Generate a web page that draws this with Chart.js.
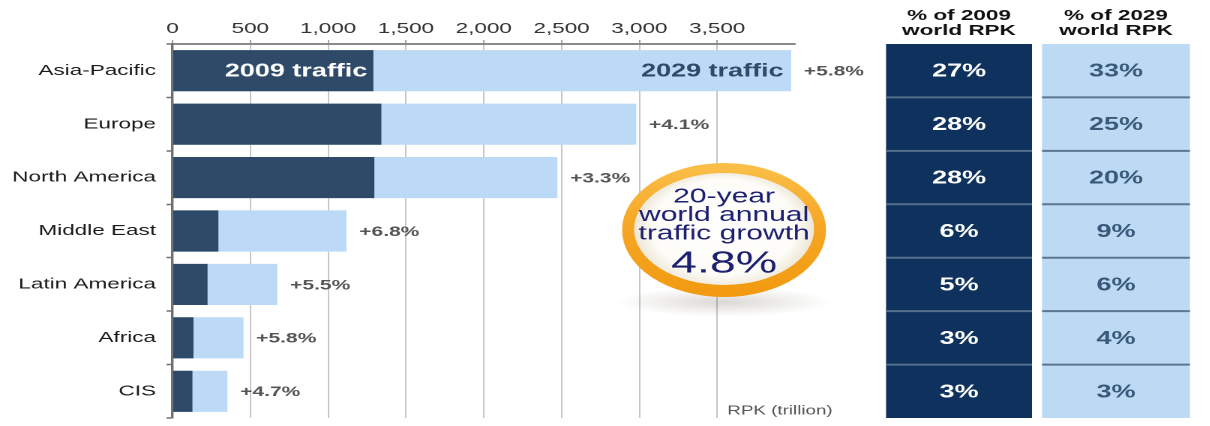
<!DOCTYPE html>
<html lang="en">
<head>
<meta charset="UTF-8" />
<title>World RPK by region, 2009 and 2029</title>
<script src="https://cdn.jsdelivr.net/npm/chart.js"></script>
<style>
  html, body {
    margin: 0;
    padding: 0;
    background: #fff;
    overflow: hidden;
  }
  /* the source graphic is stretched sideways about 1.5x, so draw it
     narrow and stretch the whole thing the same way */
  .wrap {
    width: 807px;
    height: 426px;
    transform: scaleX(1.5);
    transform-origin: 0 0;
    position: relative;
  }
</style>
</head>
<body>
<div class="wrap"><canvas id="rpk"></canvas></div>
<script>
const regions = ['Asia-Pacific', 'Europe', 'North America', 'Middle East', 'Latin America', 'Africa', 'CIS'];
const traffic2009 = [1291, 1342, 1297, 295, 225, 135, 128];
const traffic2029 = [3975, 2980, 2473, 1118, 674, 456, 353];
const growth = ['+5.8%', '+4.1%', '+3.3%', '+6.8%', '+5.5%', '+5.8%', '+4.7%'];
const share2009 = ['27%', '28%', '28%', '6%', '5%', '3%', '3%'];
const share2029 = ['33%', '25%', '20%', '9%', '6%', '4%', '3%'];
const badgeLines = ['20-year', 'world annual', 'traffic growth'];
const worldGrowth = '4.8%';

const FONT = '"Liberation Sans", Arial, Helvetica, sans-serif';
const DARK = '#2f4a69';
const LIGHT = '#bcdaf5';

const extras = {
  id: 'extras',
  afterDatasetsDraw(chart) {
    const { ctx, chartArea: a, scales: { x, y } } = chart;
    ctx.save();
    ctx.textBaseline = 'middle';

    // growth rate after each bar
    ctx.font = 'bold 14px ' + FONT;
    ctx.fillStyle = '#555';
    ctx.textAlign = 'left';
    regions.forEach((r, i) => {
      ctx.fillText(growth[i], x.getPixelForValue(traffic2029[i]) + 8.5, y.getPixelForValue(i) + 1);
    });

    // labels inside the first bar
    ctx.font = 'bold 18px ' + FONT;
    ctx.textAlign = 'right';
    ctx.fillStyle = '#fff';
    ctx.fillText('2009 traffic', x.getPixelForValue(traffic2009[0]) - 4, y.getPixelForValue(0) + 1);
    ctx.fillStyle = DARK;
    ctx.fillText('2029 traffic', x.getPixelForValue(traffic2029[0]) - 5, y.getPixelForValue(0) + 1);

    // orange badge
    const cx = 482.7, cy = 230;
    ctx.save();
    ctx.translate(cx, cy + 72);
    ctx.scale(1, 0.2);
    const sh = ctx.createRadialGradient(0, 0, 0, 0, 0, 72);
    sh.addColorStop(0, 'rgba(90,80,60,0.22)');
    sh.addColorStop(1, 'rgba(90,80,60,0)');
    ctx.fillStyle = sh;
    ctx.beginPath();
    ctx.arc(0, 0, 72, 0, Math.PI * 2);
    ctx.fill();
    ctx.restore();

    const ring = ctx.createLinearGradient(cx, cy - 67, cx, cy + 67);
    ring.addColorStop(0, '#fbc04a');
    ring.addColorStop(0.45, '#f6a726');
    ring.addColorStop(1, '#f29a10');
    ctx.beginPath();
    ctx.ellipse(cx, cy, 68, 67, 0, 0, Math.PI * 2);
    ctx.fillStyle = ring;
    ctx.fill();
    const inner = ctx.createRadialGradient(cx, cy - 12, 4, cx, cy, 62);
    inner.addColorStop(0, '#ffffff');
    inner.addColorStop(0.75, '#fdfcf8');
    inner.addColorStop(1, '#ece4d2');
    ctx.beginPath();
    ctx.ellipse(cx, cy - 1, 60, 56, 0, 0, Math.PI * 2);
    ctx.fillStyle = inner;
    ctx.fill();

    ctx.fillStyle = '#1d2070';
    ctx.textAlign = 'center';
    ctx.font = '20px ' + FONT;
    badgeLines.forEach((t, i) => ctx.fillText(t, cx, 197 + i * 18.5));
    ctx.font = '31px ' + FONT;
    ctx.fillText(worldGrowth, cx, 264);

    // share tables on the right
    const step = (a.bottom - a.top) / regions.length;
    const cols = [
      { x0: 590.7, x1: 688, fill: '#0e325d', text: '#fff', line: '#566f8e', vals: share2009, head: ['% of 2009', 'world RPK'] },
      { x0: 694.7, x1: 793.3, fill: '#bddaf5', text: '#3a5878', line: '#5c7591', vals: share2029, head: ['% of 2029', 'world RPK'] }
    ];
    cols.forEach(c => {
      const mid = (c.x0 + c.x1) / 2;
      ctx.fillStyle = c.fill;
      ctx.fillRect(c.x0, a.top, c.x1 - c.x0, a.bottom - a.top);
      ctx.strokeStyle = c.line;
      ctx.lineWidth = 2;
      for (let i = 1; i < regions.length; i++) {
        const yy = a.top + step * i;
        ctx.beginPath();
        ctx.moveTo(c.x0, yy);
        ctx.lineTo(c.x1, yy);
        ctx.stroke();
      }
      ctx.font = 'bold 18px ' + FONT;
      ctx.fillStyle = c.text;
      c.vals.forEach((v, i) => ctx.fillText(v, mid, y.getPixelForValue(i) + 1));
      ctx.font = 'bold 15px ' + FONT;
      ctx.fillStyle = '#111';
      ctx.fillText(c.head[0], mid, 16);
      ctx.fillText(c.head[1], mid, 31);
    });

    // unit note
    ctx.font = '12.5px ' + FONT;
    ctx.fillStyle = '#555';
    ctx.fillText('RPK (trillion)', 520, 411);
    ctx.restore();
  }
};

new Chart(document.getElementById('rpk'), {
  type: 'bar',
  data: {
    labels: regions,
    datasets: [
      { label: '2009 traffic', data: traffic2009, backgroundColor: DARK, order: 0 },
      { label: '2029 traffic', data: traffic2029, backgroundColor: LIGHT, order: 1 }
    ]
  },
  options: {
    indexAxis: 'y',
    responsive: true,
    maintainAspectRatio: false,
    animation: false,
    devicePixelRatio: 2,
    grouped: false,
    barPercentage: 0.77,
    categoryPercentage: 1,
    layout: { padding: { top: 18, right: 277, bottom: 8, left: 0 } },
    plugins: { legend: { display: false }, tooltip: { enabled: false } },
    scales: {
      x: {
        position: 'top',
        min: 0,
        max: 4000,
        afterFit: s => { s.height = 26; },
        border: { color: '#8a8a8a', width: 2 },
        grid: {
          color: c => (c.tick && c.tick.value > 0 && c.tick.value < 4000) ? '#b8b8b8' : 'rgba(0,0,0,0)',
          tickColor: c => (c.tick && c.tick.value < 4000) ? '#8a8a8a' : 'rgba(0,0,0,0)',
          lineWidth: 0.8,
          tickLength: 4
        },
        ticks: {
          stepSize: 500,
          color: '#333',
          font: { family: FONT, size: 15 },
          padding: 2,
          callback: v => v < 4000 ? v.toLocaleString('en-US') : ''
        }
      },
      y: {
        afterFit: s => { s.width = 115; s.paddingTop = 0; s.paddingBottom = 0; },
        border: { color: '#707070', width: 1.7 },
        grid: { drawOnChartArea: false, offset: true, tickLength: 4, tickColor: '#707070', tickWidth: 1.5 },
        ticks: { color: '#1a1a1a', font: { family: FONT, size: 15 }, padding: 7 }
      }
    }
  },
  plugins: [extras]
});
</script>
</body>
</html>
